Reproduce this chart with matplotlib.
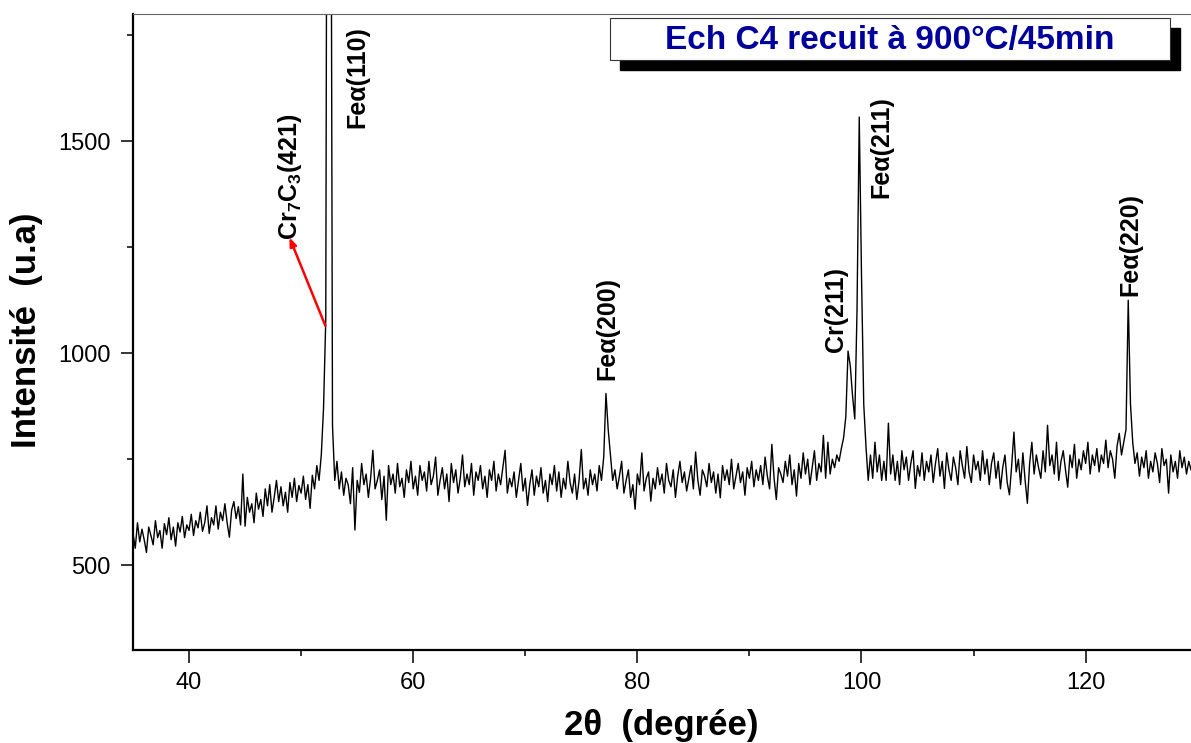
import matplotlib
matplotlib.use('Agg')
import matplotlib.pyplot as plt
from matplotlib.patches import Rectangle
from matplotlib.ticker import MultipleLocator
import numpy as np

plt.rcParams['font.family'] = ['Liberation Sans', 'DejaVu Sans']
plt.rcParams['mathtext.fontset'] = 'custom'
plt.rcParams['mathtext.rm'] = 'Liberation Sans:bold'
plt.rcParams['mathtext.bf'] = 'Liberation Sans:bold'

# XRD scan, 2theta from 35 deg, step 0.2 deg
theta_start = 35.0
theta_step = 0.2
intensity = [
    575, 540, 600, 555, 585,  560, 530, 590, 570, 548,  605, 565, 582, 540, 598,
    572, 612, 560, 590, 545,  600, 578, 615, 565, 595,  582, 620, 570, 605, 588,
    625, 580, 600, 640, 575,  612, 595, 640, 585, 625,  605, 645, 600, 566, 630,
    650, 610, 638, 595, 715,  592, 660, 625, 645, 600,  670, 632, 655, 615, 680,
    640, 690, 625, 660, 700,  650, 685, 640, 672, 625,  695, 660, 705, 650, 688,
    670, 710, 655, 690, 634,  712, 680, 735, 700, 760,  870, 1080, 3500, 3000, 830,
    700, 745, 680, 720, 665,  705, 690, 645, 730, 583,  700, 672, 740, 690, 715,
    660, 705, 771, 680, 700,  725, 655, 710, 606, 735,  690, 715, 670, 740, 685,
    705, 660, 725, 695, 745,  680, 710, 665, 735, 700,  720, 675, 745, 690, 710,
    755, 665, 700, 730, 680,  715, 650, 740, 695, 725,  670, 705, 760, 685, 715,
    690, 740, 665, 720, 700,  735, 680, 710, 660, 725,  700, 745, 675, 715, 690,
    730, 771, 670, 705, 685,  720, 660, 700, 740, 675,  705, 641, 690, 725, 665,
    710, 685, 730, 670, 700,  650, 715, 690, 735, 675,  720, 660, 705, 680, 745,
    695, 670, 715, 655, 700,  773, 680, 705, 665, 725,  690, 715, 675, 735, 700,
    755, 905, 820, 760, 700,  725, 680, 710, 745, 670,  700, 725, 660, 690, 632,
    715, 690, 765, 675, 705,  720, 651, 705, 680, 730,  690, 715, 670, 740, 700,
    685, 725, 660, 710, 745,  695, 720, 675, 705, 735,  680, 767, 700, 665, 725,
    710, 685, 740, 695, 720,  670, 715, 659, 735, 700,  725, 690, 750, 680, 710,
    740, 695, 720, 665, 730,  705, 745, 685, 725, 700,  735, 690, 755, 710, 680,
    785, 705, 655, 730, 715,  695, 745, 710, 760, 690,  725, 663, 740, 705, 765,
    715, 750, 690, 730, 770,  700, 740, 720, 806, 705,  790, 715, 750, 730, 760,
    745, 775, 800, 850, 1005, 970, 900, 845, 1100, 1557, 1184, 880, 780, 700, 760,
    705, 790, 720, 760, 700,  745, 700, 835, 715, 760,  700, 745, 690, 770, 725,
    755, 700, 740, 770, 681,  735, 710, 765, 700, 745,  720, 760, 695, 740, 775,
    710, 745, 681, 765, 725,  700, 755, 730, 690, 770,  735, 705, 780, 720, 695,
    760, 725, 745, 700, 770,  715, 750, 690, 740, 765,  705, 745, 680, 730, 760,
    695, 666, 735, 814, 720,  750, 690, 765, 700, 646,  740, 790, 715, 760, 730,
    705, 770, 720, 830, 735,  760, 715, 790, 700, 745,  770, 725, 684, 760, 730,
    785, 705, 750, 725, 770,  740, 790, 715, 760, 735,  775, 720, 760, 740, 795,
    730, 770, 750, 705, 780,  811, 760, 790, 820, 1125, 880, 790, 740, 765, 710,
    755, 730, 770, 705, 745,  720, 765, 740, 695, 775,  735, 750, 670, 760, 720,
    745, 705, 770, 730, 755,  715, 745, 725,
]
two_theta = np.round(theta_start + theta_step * np.arange(len(intensity)), 2)

peak_labels = ['Fe\u03b1(110)', 'Fe\u03b1(200)', 'Cr(211)', 'Fe\u03b1(211)', 'Fe\u03b1(220)']
peak_label_x = [55.0, 77.3, 97.7, 101.8, 124.0]
peak_label_y = [1530, 936, 1002, 1365, 1135]

carbide_label = 'Cr$_7$C$_3$(421)'
carbide_label_pos = (49.0, 1266)
carbide_arrow_from = (52.16, 1065)
carbide_arrow_to = (48.96, 1273)

title = 'Ech C4 recuit \u00e0 900\u00b0C/45min'

W, H = 1191, 743
fig = plt.figure(figsize=(W / 100, H / 100), dpi=100)
ax = fig.add_axes([133 / W, (H - 650) / H, (W - 133) / W, (650 - 14) / H])

ax.plot(two_theta, intensity, color='black', lw=1.0)

ax.set_xlim(35, 129.4)
ax.set_ylim(300, 1800)
ax.xaxis.set_major_locator(MultipleLocator(20))
ax.xaxis.set_minor_locator(MultipleLocator(10))
ax.yaxis.set_major_locator(MultipleLocator(500))
ax.yaxis.set_minor_locator(MultipleLocator(250))
ax.tick_params(which='major', direction='out', length=9, width=1.1, labelsize=17, pad=7)
ax.tick_params(which='minor', direction='out', length=4.5, width=1.1)

for s in ['left', 'bottom']:
    ax.spines[s].set_linewidth(1.6)
ax.spines['top'].set_linewidth(0.8)
ax.spines['top'].set_color('#666666')
ax.spines['right'].set_visible(False)

for lab, x, y in zip(peak_labels, peak_label_x, peak_label_y):
    ax.text(x, y, lab, rotation=90, ha='center', va='bottom',
            fontsize=18, fontweight='bold')

ax.text(carbide_label_pos[0], carbide_label_pos[1], carbide_label, rotation=90,
        ha='center', va='bottom', fontsize=18, fontweight='bold')
ax.annotate('', xy=carbide_arrow_to, xytext=carbide_arrow_from,
            arrowprops=dict(arrowstyle='-|>,head_length=0.5,head_width=0.2',
                            color='red', lw=1.8, shrinkA=0, shrinkB=0))

fig.text(27 / W, 1 - 330 / H, 'Intensit\u00e9  (u.a)', rotation=90, ha='center', va='center',
         fontsize=25, fontweight='bold')
fig.text(661 / W, 1 - 726 / H, '2\u03b8  (degr\u00e9e)', ha='center', va='center',
         fontsize=25, fontweight='bold')

# title box with drop shadow
fig.add_artist(Rectangle((620 / W, 1 - 70 / H), 560 / W, 42 / H, transform=fig.transFigure,
                         facecolor='black', edgecolor='black', zorder=5))
fig.add_artist(Rectangle((610 / W, 1 - 60 / H), 560 / W, 42 / H, transform=fig.transFigure,
                         facecolor='white', edgecolor='#333333', lw=0.8, zorder=6))
fig.text(890 / W, 1 - 40 / H, title, ha='center', va='center', fontsize=24,
         fontweight='bold', color='#00009C', zorder=7)

fig.savefig('out.png', dpi=100)
